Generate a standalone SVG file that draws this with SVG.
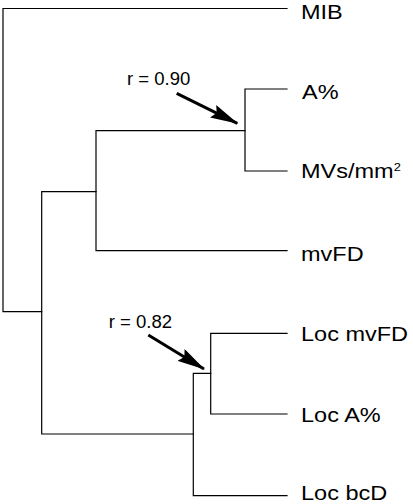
<svg xmlns="http://www.w3.org/2000/svg" width="413" height="504" viewBox="0 0 413 504">
<defs>
<style>
.tree{fill:none;stroke:#000;stroke-width:1.2;stroke-linecap:square}
.leaf{font-family:"Liberation Sans",Arial,sans-serif;font-size:21px;fill:#000}
.note{font-family:"Liberation Sans",Arial,sans-serif;font-size:18px;fill:#000}
.arrow{stroke:#000;stroke-width:3;fill:none}
</style>
<marker id="head" markerUnits="userSpaceOnUse" markerWidth="30" markerHeight="14" refX="27" refY="7" orient="auto">
<path d="M0,0 L28,7 L0,14 L4,7 z" fill="#000"/>
</marker>
</defs>
<rect width="413" height="504" fill="#fff"/>
<g id="connectors">
<path class="tree" d="M287,8.5 H3 V311.7 H41.7"/>
<path class="tree" d="M96,191.7 H41.7 V434 H193.3"/>
<path class="tree" d="M245,130.7 H96 V250.7 H287"/>
<path class="tree" d="M287,89 H245 V171 H287"/>
<path class="tree" d="M210.7,373.3 H193.3 V495.7 H287"/>
<path class="tree" d="M287,333.3 H210.7 V414 H287"/>
</g>
<g id="annotations">
<line class="arrow" x1="176.7" y1="93.3" x2="237.3" y2="123.3" marker-end="url(#head)"/>
<line class="arrow" x1="148.3" y1="335" x2="204" y2="369" marker-end="url(#head)"/>
<text class="note" transform="translate(127,85) scale(1.03,1)">r = 0.90</text>
<text class="note" transform="translate(108.7,328.3) scale(1.03,1)">r = 0.82</text>
</g>
<g id="MIB"><text class="leaf" transform="translate(301,19) scale(1.12,1)">MIB</text></g>
<g id="A"><text class="leaf" transform="translate(302,98.5) scale(1.12,1)">A%</text></g>
<g id="MVs"><text class="leaf" transform="translate(301,178) scale(1.12,1)">MVs/mm<tspan font-size="11.5" dy="-7.5">2</tspan></text></g>
<g id="mvFD"><text class="leaf" transform="translate(301,261) scale(1.12,1)">mvFD</text></g>
<g id="LocmvFD"><text class="leaf" transform="translate(301,340.5) scale(1.12,1)">Loc mvFD</text></g>
<g id="LocA"><text class="leaf" transform="translate(301,421.5) scale(1.12,1)">Loc A%</text></g>
<g id="LocbcD"><text class="leaf" transform="translate(301,499.5) scale(1.12,1)">Loc bcD</text></g>
</svg>
